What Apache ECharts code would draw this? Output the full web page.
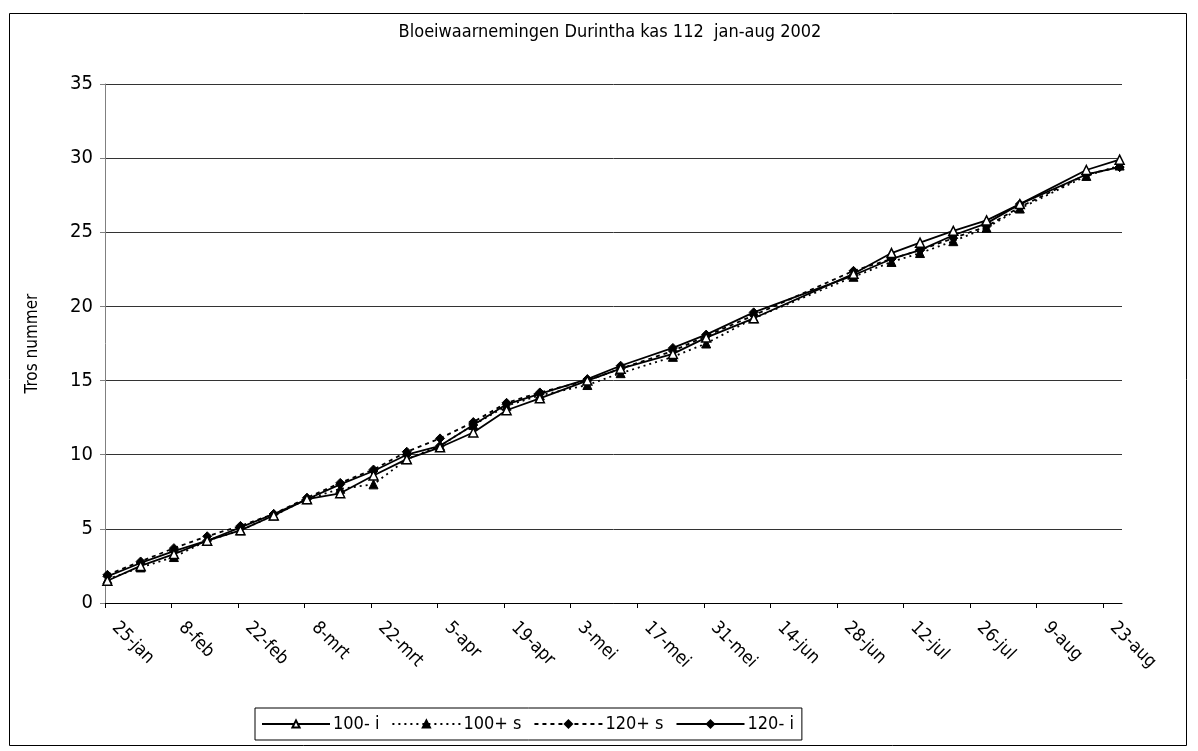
<!DOCTYPE html>
<html>
<head>
<meta charset="utf-8">
<script src="https://cdn.jsdelivr.net/npm/echarts@6/dist/echarts.min.js"></script>
<style>
html,body{margin:0;padding:0;background:#fff;}
#chart{width:1198px;height:751px;}
</style>
</head>
<body>
<div id="chart"></div>
<script>
var titleText = 'Bloeiwaarnemingen Durintha kas 112  jan-aug 2002';
var yAxisName = 'Tros nummer';
var startDate = '2002-01-25';
var endDate = '2002-08-27';
var tickLabels = ['25-jan','8-feb','22-feb','8-mrt','22-mrt','5-apr','19-apr','3-mei','17-mei','31-mei','14-jun','28-jun','12-jul','26-jul','9-aug','23-aug'];
var tickStepDays = 14;
var yTicks = [0,5,10,15,20,25,30,35];

var dates = ['2002-01-25','2002-02-01','2002-02-08','2002-02-15','2002-02-22','2002-03-01','2002-03-08','2002-03-15','2002-03-22','2002-03-29','2002-04-05','2002-04-12','2002-04-19','2002-04-26','2002-05-06','2002-05-13','2002-05-24','2002-05-31','2002-06-10','2002-07-01','2002-07-09','2002-07-15','2002-07-22','2002-07-29','2002-08-05','2002-08-19','2002-08-26'];

var seriesNames = ['100- i','100+ s','120+ s','120- i'];
var v100i  = [1.5, 2.5, 3.3, 4.2, 4.9, 5.9, 7.0, 7.4, 8.6, 9.7, 10.5, 11.5, 13.0, 13.8, 15.0, 15.8, 16.8, 17.9, 19.2, 22.2, 23.6, 24.3, 25.1, 25.8, 26.9, 29.2, 29.9];
var v100s  = [1.6, 2.4, 3.1, 4.2, 4.9, 5.9, 7.0, 7.7, 8.0, 9.7, 10.6, 12.0, 13.3, 14.0, 14.7, 15.5, 16.6, 17.5, 19.2, 22.0, 23.0, 23.6, 24.4, 25.3, 26.6, 28.8, 29.5];
var v120s  = [1.9, 2.8, 3.7, 4.5, 5.2, 6.0, 7.1, 8.1, 9.0, 10.2, 11.1, 12.2, 13.5, 14.2, 15.0, 15.8, 17.0, 18.0, 19.4, 22.4, 23.2, 23.8, 24.6, 25.4, 26.7, 28.9, 29.4];
var v120i  = [1.8, 2.7, 3.5, 4.2, 5.1, 6.0, 7.0, 8.0, 8.9, 10.0, 10.6, 12.0, 13.4, 14.1, 15.1, 16.0, 17.2, 18.1, 19.6, 22.1, 23.2, 23.8, 24.8, 25.6, 26.9, 28.9, 29.4];

var DAY = 86400000;
function dayIndex(s){ return Math.round((Date.parse(s + 'T00:00:00Z') - Date.parse(startDate + 'T00:00:00Z')) / DAY); }
// Excel date axis: each observation sits in the middle of its day slot
function pairs(vals){ return dates.map(function(d,i){ return [dayIndex(d) + 0.5, vals[i]]; }); }
var axisMaxDays = dayIndex(endDate);
var tickValues = tickLabels.map(function(_, i){ return i * tickStepDays; });

var FONT = "'Liberation Sans Narrow','Arial Narrow','DejaVu Sans Condensed',sans-serif";

var chart = echarts.init(document.getElementById('chart'), null, {renderer:'canvas'});
var option = {
  backgroundColor: '#fff',
  animation: false,
  textStyle: {fontFamily: FONT, color: '#000'},
  title: {
    text: titleText, left: 605, top: 18, textAlign: 'center',
    textStyle: {fontFamily: FONT, fontSize: 18, fontWeight: 'normal', color: '#000'}
  },
  graphic: [{
    type: 'rect', silent: true, z: -1,
    shape: {x: 9.5, y: 13.5, width: 1177, height: 732},
    style: {fill: 'none', stroke: '#000', lineWidth: 1}
  }],
  legend: {
    left: 255, top: 708,
    orient: 'horizontal',
    backgroundColor: '#fff', borderColor: '#000', borderWidth: 1,
    padding: [7, 8, 7, 6],
    itemWidth: 68, itemHeight: 9, itemGap: 12,
    textStyle: {fontFamily: FONT, fontSize: 18, color: '#000', padding: [0,0,0,-2]},
    data: seriesNames
  },
  grid: {left: 105, right: 76, top: 84, bottom: 148, containLabel: false},
  xAxis: {
    type: 'value', min: 0, max: axisMaxDays,
    splitLine: {show: false},
    axisLine: {show: true, onZero: false, lineStyle: {color: '#000', width: 1}},
    axisTick: {show: true, length: 5, inside: false, customValues: tickValues, lineStyle: {color: '#000'}},
    axisLabel: {
      customValues: tickValues,
      rotate: -45, margin: 12, padding: [0,0,0,14],
      fontFamily: FONT, fontSize: 18, color: '#000',
      formatter: function(v){ var i = Math.round(v / tickStepDays); return (v % tickStepDays === 0 && tickLabels[i]) ? tickLabels[i] : ''; }
    }
  },
  yAxis: {
    type: 'value', min: yTicks[0], max: yTicks[yTicks.length-1], interval: 5,
    name: yAxisName, nameLocation: 'middle', nameGap: 64, nameRotate: 90,
    nameTextStyle: {fontFamily: FONT, fontSize: 17, color: '#000'},
    axisLine: {show: true, lineStyle: {color: '#808080', width: 1}},
    axisTick: {show: true, length: 5, lineStyle: {color: '#808080'}},
    axisLabel: {margin: 12, fontFamily: FONT, fontSize: 20, color: '#000'},
    splitLine: {show: true, lineStyle: {color: '#333', width: 1}}
  },
  series: [
    {
      name: seriesNames[0], type: 'line', data: pairs(v100i),
      symbol: 'triangle', symbolSize: 9, showSymbol: true,
      lineStyle: {color: '#000', width: 1.8, type: 'solid'},
      itemStyle: {color: '#fff', borderColor: '#000', borderWidth: 1.5},
      z: 4
    },
    {
      name: seriesNames[1], type: 'line', data: pairs(v100s),
      symbol: 'triangle', symbolSize: 9,
      lineStyle: {color: '#000', width: 1.8, type: [2, 4]},
      itemStyle: {color: '#000', borderColor: '#000', borderWidth: 1},
      z: 3
    },
    {
      name: seriesNames[2], type: 'line', data: pairs(v120s),
      symbol: 'diamond', symbolSize: 9,
      lineStyle: {color: '#000', width: 1.8, type: [4, 4]},
      itemStyle: {color: '#000', borderColor: '#000', borderWidth: 1},
      z: 3
    },
    {
      name: seriesNames[3], type: 'line', data: pairs(v120i),
      symbol: 'diamond', symbolSize: 9,
      lineStyle: {color: '#000', width: 1.8, type: 'solid'},
      itemStyle: {color: '#000', borderColor: '#000', borderWidth: 1},
      z: 3
    }
  ]
};
chart.setOption(option);
</script>
</body>
</html>
